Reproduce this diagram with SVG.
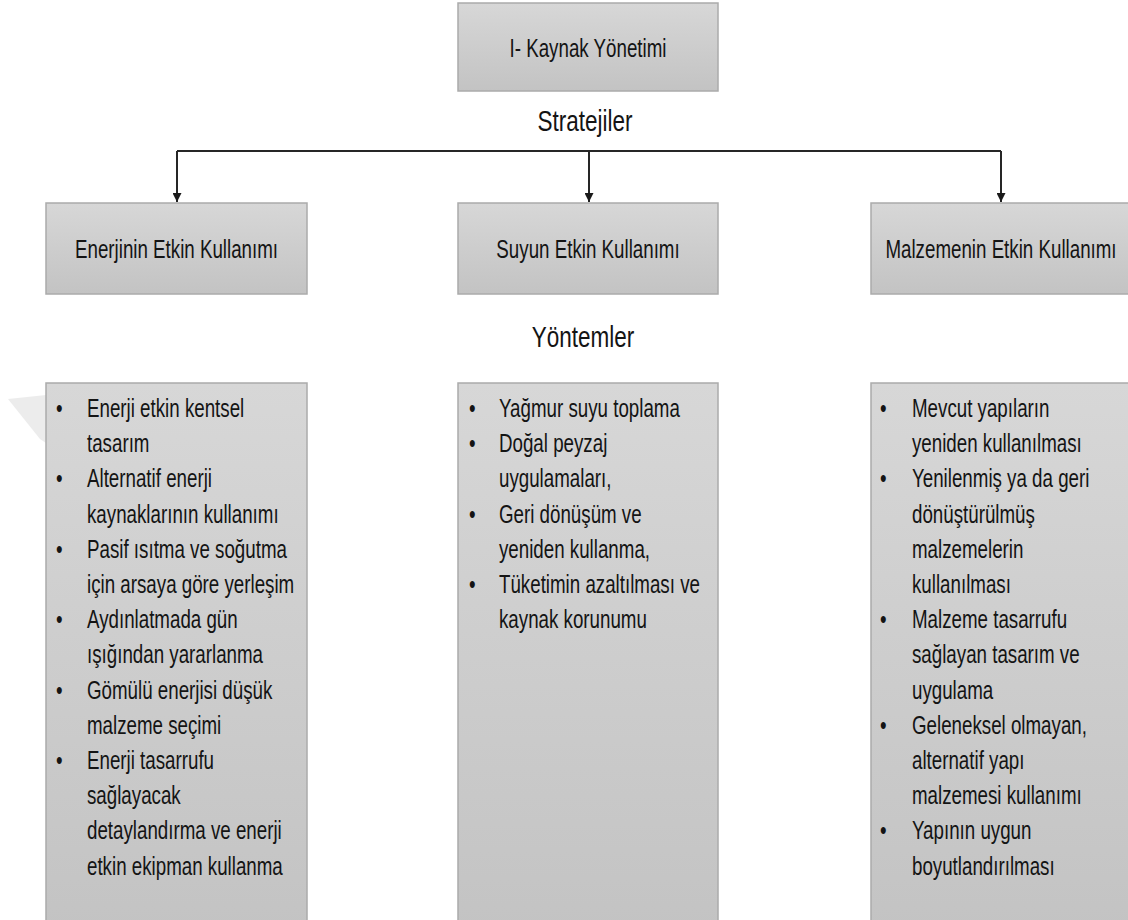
<svg xmlns="http://www.w3.org/2000/svg" width="1128" height="920" viewBox="0 0 1128 920">
<defs>
<linearGradient id="g" x1="0" y1="0" x2="0" y2="1">
<stop offset="0" stop-color="#d7d7d7"/>
<stop offset="1" stop-color="#c3c3c3"/>
</linearGradient>
<marker id="arr" viewBox="0 0 10 10" refX="10" refY="5" markerWidth="9" markerHeight="9" markerUnits="userSpaceOnUse" orient="auto">
<path d="M0,0 L10,5 L0,10 z" fill="#1a1a1a"/>
</marker>
</defs>
<style>
.box{fill:url(#g);stroke:#ababab;stroke-width:1.5}
.t{font-family:"Liberation Sans",Arial,sans-serif;font-size:25px;fill:#141414}
.big{font-size:30px}
.c{text-anchor:middle}
.conn{stroke:#262626;stroke-width:2;fill:none}
</style>
<rect width="1128" height="920" fill="#ffffff"/>
<polygon points="8,399 46,395 46,443 40,439" fill="#ececec"/>
<g id="connectors">
<path class="conn" d="M177,151 H1001"/>
<path class="conn" d="M177,151 V202" marker-end="url(#arr)"/>
<path class="conn" d="M589,151 V202" marker-end="url(#arr)"/>
<path class="conn" d="M1001,151 V202" marker-end="url(#arr)"/>
</g>
<g id="root">
<rect class="box" x="458" y="3" width="260" height="88"/>
<text class="t c" transform="translate(588 57) scale(0.75 1)">I- Kaynak Yönetimi</text>
</g>
<g id="label-stratejiler">
<text class="t big c" transform="translate(585 131) scale(0.75 1)">Stratejiler</text>
</g>
<g id="enerji">
<rect class="box" x="46" y="203" width="261" height="91"/>
<text class="t c" transform="translate(176.5 258) scale(0.75 1)">Enerjinin Etkin Kullanımı</text>
</g>
<g id="suyun">
<rect class="box" x="458" y="203" width="260" height="91"/>
<text class="t c" transform="translate(588 258) scale(0.75 1)">Suyun Etkin Kullanımı</text>
</g>
<g id="malzeme">
<rect class="box" x="871" y="203" width="262" height="91"/>
<text class="t c" transform="translate(1001 258) scale(0.75 1)">Malzemenin Etkin Kullanımı</text>
</g>
<g id="label-yontemler">
<text class="t big c" transform="translate(583 347) scale(0.75 1)">Yöntemler</text>
</g>
<g id="enerji-yontem">
<rect class="box" x="46" y="383" width="261" height="550"/>
<text class="t" transform="translate(56 417) scale(0.75 1)"><tspan x="0">•</tspan><tspan x="0" dy="70.4">•</tspan><tspan x="0" dy="70.4">•</tspan><tspan x="0" dy="70.4">•</tspan><tspan x="0" dy="70.4">•</tspan><tspan x="0" dy="70.4">•</tspan></text>
<text class="t" transform="translate(87 417) scale(0.75 1)"><tspan x="0">Enerji etkin kentsel</tspan><tspan x="0" dy="35.2">tasarım</tspan><tspan x="0" dy="35.2">Alternatif enerji</tspan><tspan x="0" dy="35.2">kaynaklarının kullanımı</tspan><tspan x="0" dy="35.2">Pasif ısıtma ve soğutma</tspan><tspan x="0" dy="35.2">için arsaya göre yerleşim</tspan><tspan x="0" dy="35.2">Aydınlatmada gün</tspan><tspan x="0" dy="35.2">ışığından yararlanma</tspan><tspan x="0" dy="35.2">Gömülü enerjisi düşük</tspan><tspan x="0" dy="35.2">malzeme seçimi</tspan><tspan x="0" dy="35.2">Enerji tasarrufu</tspan><tspan x="0" dy="35.2">sağlayacak</tspan><tspan x="0" dy="35.2">detaylandırma ve enerji</tspan><tspan x="0" dy="35.2">etkin ekipman kullanma</tspan></text>
</g>
<g id="suyun-yontem">
<rect class="box" x="458" y="383" width="260" height="550"/>
<text class="t" transform="translate(469 417) scale(0.75 1)"><tspan x="0">•</tspan><tspan x="0" dy="35.2">•</tspan><tspan x="0" dy="70.4">•</tspan><tspan x="0" dy="70.4">•</tspan></text>
<text class="t" transform="translate(499 417) scale(0.75 1)"><tspan x="0">Yağmur suyu toplama</tspan><tspan x="0" dy="35.2">Doğal peyzaj</tspan><tspan x="0" dy="35.2">uygulamaları,</tspan><tspan x="0" dy="35.2">Geri dönüşüm ve</tspan><tspan x="0" dy="35.2">yeniden kullanma,</tspan><tspan x="0" dy="35.2">Tüketimin azaltılması ve</tspan><tspan x="0" dy="35.2">kaynak korunumu</tspan></text>
</g>
<g id="malzeme-yontem">
<rect class="box" x="871" y="383" width="262" height="550"/>
<text class="t" transform="translate(880 417) scale(0.75 1)"><tspan x="0">•</tspan><tspan x="0" dy="70.4">•</tspan><tspan x="0" dy="140.8">•</tspan><tspan x="0" dy="105.6">•</tspan><tspan x="0" dy="105.6">•</tspan></text>
<text class="t" transform="translate(912 417) scale(0.75 1)"><tspan x="0">Mevcut yapıların</tspan><tspan x="0" dy="35.2">yeniden kullanılması</tspan><tspan x="0" dy="35.2">Yenilenmiş ya da geri</tspan><tspan x="0" dy="35.2">dönüştürülmüş</tspan><tspan x="0" dy="35.2">malzemelerin</tspan><tspan x="0" dy="35.2">kullanılması</tspan><tspan x="0" dy="35.2">Malzeme tasarrufu</tspan><tspan x="0" dy="35.2">sağlayan tasarım ve</tspan><tspan x="0" dy="35.2">uygulama</tspan><tspan x="0" dy="35.2">Geleneksel olmayan,</tspan><tspan x="0" dy="35.2">alternatif yapı</tspan><tspan x="0" dy="35.2">malzemesi kullanımı</tspan><tspan x="0" dy="35.2">Yapının uygun</tspan><tspan x="0" dy="35.2">boyutlandırılması</tspan></text>
</g>
</svg>
